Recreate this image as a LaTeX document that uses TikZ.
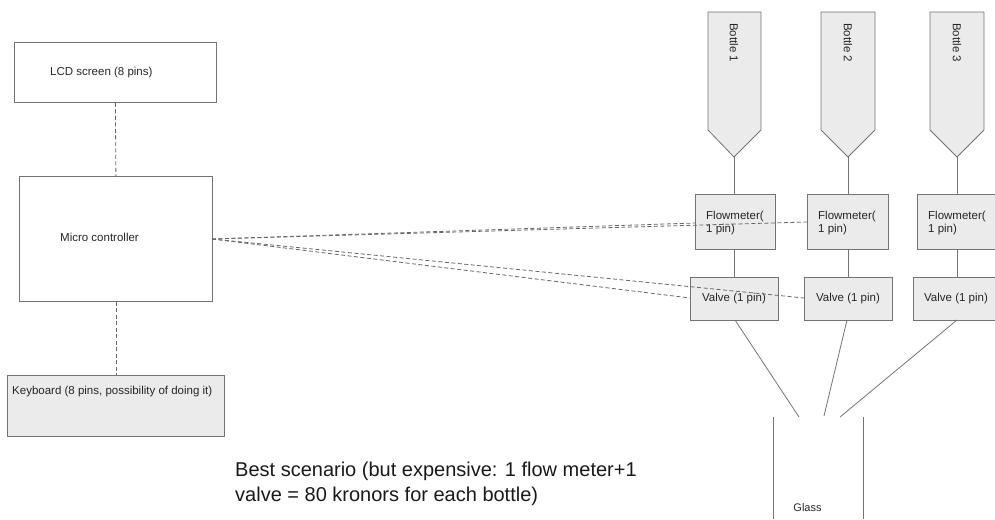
\documentclass[tikz,border=0pt]{standalone}
\usepackage{fontspec}
\setmainfont{Liberation Sans}
\begin{document}
\begin{tikzpicture}[x=1pt,y=-1pt,
  edge/.style={draw=black!55, line width=0.8pt},
  box/.style={rectangle, draw=black!55, line width=0.8pt, inner sep=0pt, anchor=north west},
  greybox/.style={box, fill=black!8},
  lbl/.style={font=\fontsize{11.5}{13.5}\selectfont, text=black!85, inner sep=0pt},
  wire/.style={draw=black!60, line width=0.8pt, dash pattern=on 4pt off 2.5pt},
  bottle/.style={draw=black!55, line width=0.8pt, fill=black!8, line join=miter}
]
\useasboundingbox (0,0) rectangle (995,519);

% control side
\node[box, minimum width=202pt, minimum height=60pt] (lcd) at (14,42) {};
\node[lbl, anchor=west] (lcdt) at (50,73) {LCD screen (8 pins)};
\node[box, minimum width=193pt, minimum height=125pt] (mc) at (19,176) {};
\node[lbl, anchor=west] (mct) at (60,237) {Micro controller};
\node[greybox, minimum width=217pt, minimum height=61pt] (kb) at (7,375) {};
\node[lbl, anchor=west] (kbt) at (12,392) {Keyboard (8 pins, possibility of doing it)};

\coordinate (mcport) at (212,239);
\draw[wire] (lcd.south) -- (mc.north);
\draw[wire] (mc.south) -- (kb.north);

% bottles
\foreach \i/\l/\r/\t in {1/708/761/734, 2/821/875/848, 3/930/984/957}{
  \draw[bottle] (\l,12) -- (\r,12) -- (\r,130) -- (\t,157) -- (\l,130) -- cycle;
  \coordinate (tip\i) at (\t,157);
  \node[lbl, font=\fontsize{11.5}{13}\selectfont, rotate=-90, anchor=west] (bt\i) at (\t,23) {Bottle \i};
}

% flowmeters
\node[greybox, minimum width=80pt, minimum height=55pt] (fm1) at (695,194) {};
\node[greybox, minimum width=81pt, minimum height=55pt] (fm2) at (807,194) {};
\node[greybox, minimum width=82pt, minimum height=55pt] (fm3) at (917,194) {};
\foreach \i/\x in {1/706, 2/818, 3/928}{
  \node[lbl, anchor=north west, align=left] (fmt\i) at (\x,210.5) {Flowmeter(\\1 pin)};
}

% valves
\node[greybox, minimum width=88pt, minimum height=43pt] (v1) at (690,277) {};
\node[greybox, minimum width=88pt, minimum height=43pt] (v2) at (804,277) {};
\node[greybox, minimum width=86pt, minimum height=43pt] (v3) at (913,277) {};
\node[lbl] (vl1) at (734,299) {Valve (1 pin)};
\node[lbl] (vl2) at (848,299) {Valve (1 pin)};
\node[lbl] (vl3) at (956,299) {Valve (1 pin)};

% pipes
\foreach \i/\t in {1/734, 2/848, 3/957}{
  \coordinate (fmtop\i) at (\t,194);
  \coordinate (fmbot\i) at (\t,249);
  \coordinate (vtop\i) at (\t,277);
  \draw[edge] (tip\i) -- (fmtop\i);
  \draw[edge] (fmbot\i) -- (vtop\i);
}

% glass
\coordinate (g1) at (799,417);
\coordinate (g2) at (824,416);
\coordinate (g3) at (840,417);
\coordinate (vb1) at (735,320);
\coordinate (vb2) at (847,320);
\coordinate (vb3) at (957,320);
\draw[edge] (vb1) -- (g1);
\draw[edge] (vb2) -- (g2);
\draw[edge] (vb3) -- (g3);
\coordinate (gl1) at (773,417);
\coordinate (gl2) at (773,519);
\coordinate (gr1) at (863,417);
\coordinate (gr2) at (863,519);
\draw[edge] (gl1) -- (gl2);
\draw[edge] (gr1) -- (gr2);
\node[lbl, font=\fontsize{11}{13}\selectfont] (glass) at (807.5,507.5) {Glass};

% signal wires
\coordinate (fm1in) at (695,223);
\coordinate (fm2in) at (807,222);
\coordinate (v1in) at (690,298);
\coordinate (v2in) at (804,298);
\draw[wire] (mcport) -- (fm1in);
\draw[wire] (mcport) -- (fm2in);
\draw[wire] (mcport) -- (v1in);
\draw[wire] (mcport) -- (v2in);

% note
\node[anchor=north west, align=left, inner sep=0pt, font=\fontsize{20}{25}\selectfont, text=black!90] (note) at (235,462)
  {Best scenario (but expensive: 1 flow meter+1\\valve = 80 kronors for each bottle)};
\end{tikzpicture}
\end{document}
